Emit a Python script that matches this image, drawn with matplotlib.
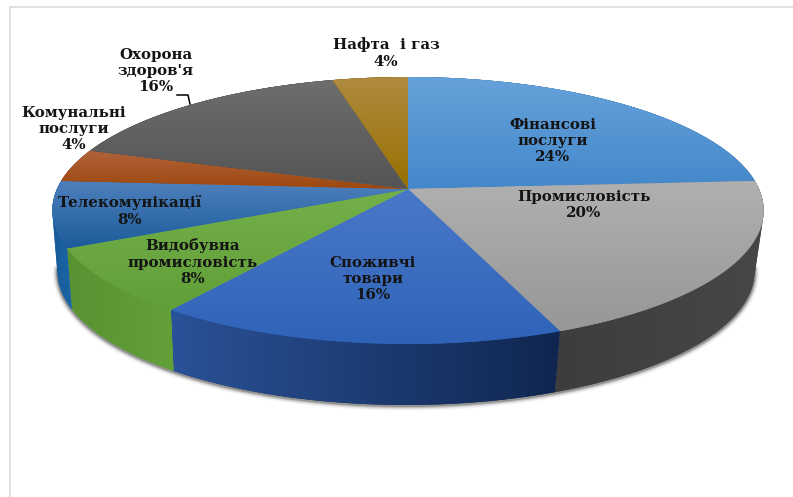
import numpy as np
import matplotlib
matplotlib.use("Agg")
import matplotlib.pyplot as plt
from matplotlib.colors import to_rgb
from matplotlib.patches import Polygon

categories = ["Фінансові\nпослуги", "Промисловість", "Споживчі\nтовари",
              "Видобувна\nпромисловість", "Телекомунікації", "Комунальні\nпослуги",
              "Охорона\nздоров'я", "Нафта  і газ"]
shares = [24, 20, 16, 8, 8, 4, 16, 4]

top_colors = [("#66a2da", "#4488cb"), ("#b0b0b0", "#979797"), ("#4a78c8", "#2f63b8"),
              ("#74b04a", "#619f38"), ("#4f80bd", "#1c5c9a"), ("#b0633a", "#9e480e"),
              ("#6e6e6e", "#545454"), ("#b08a40", "#977000")]
side_colors = [("#2f5f90", "#2f5f90"), ("#3d3d3d", "#474747"), ("#2a5298", "#10264f"),
               ("#5a9232", "#62a038"), ("#175a96", "#1b66a6"), ("#7a3a10", "#7a3a10"),
               ("#444444", "#444444"), ("#7a5a00", "#7a5a00")]
label_xy = [(553, 141), (584, 205), (373, 279), (193, 262), (130, 211),
            (74, 129), (156, 71), (386, 53)]

W, H = 793, 497
CX, CY, A, B, PERSP = 408, 189, 351, 130, 0.161
DEPTH, SHRINK, SHIFT = 61, 0.98, -2


def project(theta):
    u, v = np.cos(theta), np.sin(theta)
    k = 1 + PERSP * v
    return CX + A * u / k, CY - B * v / k


def lower(x, y):
    return CX + SHIFT + (x - CX) * SHRINK, y + DEPTH


def hull(xs, ys):
    pts = sorted(set(zip(xs.tolist(), ys.tolist())))

    def half(seq):
        out = []
        for p in seq:
            while len(out) > 1 and ((out[-1][0] - out[-2][0]) * (p[1] - out[-2][1])
                                    - (out[-1][1] - out[-2][1]) * (p[0] - out[-2][0])) <= 0:
                out.pop()
            out.append(p)
        return out[:-1]

    ring = np.array(half(pts) + half(pts[::-1]))
    return ring[:, 0], ring[:, 1]


def gradient_fill(ax, xs, ys, c0, c1, vertical, z):
    poly = Polygon(np.column_stack([xs, ys]), closed=True, fc=c1, ec="none", zorder=z)
    ax.add_patch(poly)
    c0, c1 = np.array(to_rgb(c0)), np.array(to_rgb(c1))
    t = np.linspace(0, 1, 128)[:, None]
    ramp = c0 + (c1 - c0) * t
    img = ramp[:, None, :] if vertical else ramp[None, :, :]
    im = ax.imshow(img, extent=(xs.min(), xs.max(), ys.max(), ys.min()), aspect="auto",
                   interpolation="bilinear", zorder=z + 0.1)
    im.set_clip_path(poly)


fig = plt.figure(figsize=(W / 100, H / 100), dpi=100)
ax = fig.add_axes([0, 0, 1, 1])
ax.set_axis_off()

fractions = np.array(shares, dtype=float) / sum(shares)
edges = np.pi / 2 - 2 * np.pi * np.concatenate([[0], np.cumsum(fractions)])

# soft shadow along the lower rim
th = np.linspace(np.radians(-8), np.radians(-172), 300)
rx, ry = lower(*project(th))
for lw, al in [(7, 0.05), (5, 0.09), (3.5, 0.15), (2, 0.28)]:
    ax.plot(rx, ry + 0.8, color="#202020", lw=lw, alpha=al, zorder=1, solid_capstyle="round")

# side walls, then top faces
for i in range(len(shares)):
    t = np.linspace(edges[i], edges[i + 1], 100)
    x, y = project(t)
    xb, yb = lower(x, y)
    xs, ys = hull(np.concatenate([x, xb]), np.concatenate([y, yb]))
    gradient_fill(ax, xs, ys, *side_colors[i], vertical=False, z=2 + 0.2 * i)

for i in range(len(shares)):
    t = np.linspace(edges[i], edges[i + 1], 100)
    x, y = project(t)
    xs = np.concatenate([[CX], x])
    ys = np.concatenate([[CY], y])
    gradient_fill(ax, xs, ys, *top_colors[i], vertical=True, z=5 + 0.2 * i)

for name, share, (lx, ly) in zip(categories, shares, label_xy):
    ax.text(lx, ly, f"{name}\n{share}%", ha="center", va="center", family="DejaVu Serif",
            fontweight="bold", fontsize=10.8, color="#141414", linespacing=1.2, zorder=10)

# leader line of the health-care label
ax.plot([177, 188, 190], [95, 95, 104], color="black", lw=1.1, zorder=10)

# frame of the picture
ax.plot([10, 10], [H, 6.5], color="#dcdcdc", lw=1.2, zorder=0)
ax.plot([10, W], [6.5, 6.5], color="#dcdcdc", lw=1.2, zorder=0)

ax.set_xlim(0, W)
ax.set_ylim(H, 0)
fig.savefig("out.png", dpi=100, facecolor="white")
